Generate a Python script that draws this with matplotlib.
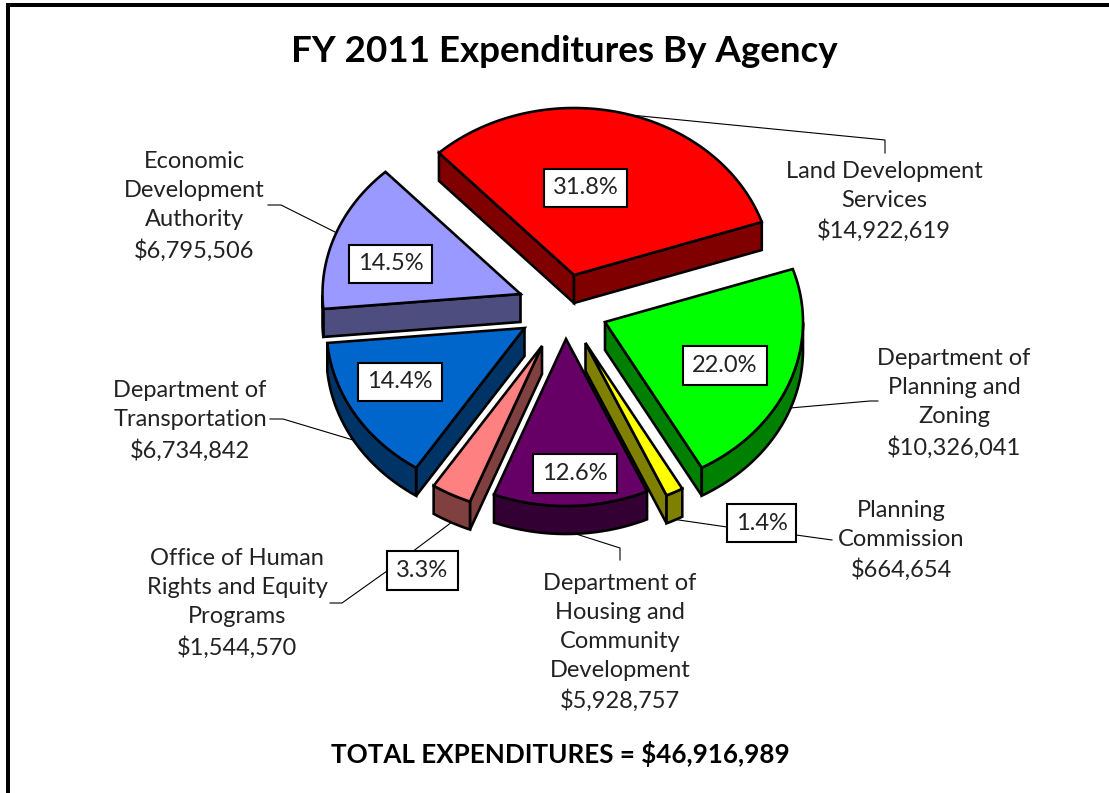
import matplotlib
matplotlib.use('Agg')
import matplotlib.pyplot as plt
import numpy as np

agencies = ['Land Development\nServices', 'Department of\nPlanning and\nZoning', 'Planning\nCommission',
            'Department of\nHousing and\nCommunity\nDevelopment', 'Office of Human\nRights and Equity\nPrograms',
            'Department of\nTransportation', 'Economic\nDevelopment\nAuthority']
amounts = [14922619, 10326041, 664654, 5928757, 1544570, 6734842, 6795506]
total = 46916989

top_colors = ['#FF0000', '#00FF00', '#FFFF00', '#660066', '#FF8080', '#0066CC', '#9999FF']
side_colors = ['#800000', '#008000', '#808000', '#330033', '#804040', '#003366', '#4D4D80']

# layout, everything below is in image pixels
apex = [(574, 275), (605, 322), (585.5, 343), (566, 339), (542, 346), (524.5, 328), (520.5, 294)]
name_pos = [(884, 201.5), (954, 403.5), (901, 540.5), (620, 642.5), (237, 603.5), (190, 421), (194, 206.5)]
pct_pos = [(585.5, 188), (725, 365.5), (761.5, 523), (575, 473.5), (422.5, 570.5), (400, 382), (390.5, 264)]
leaders = [[(600, 112), (885, 140), (885, 153)],
           [(790, 408), (870, 401), (878, 401)],
           [(665, 518), (727, 527)],
           [(576, 534), (620, 548), (620, 560)],
           [(452, 522), (412, 552)],
           [(353, 440), (283, 419), (270, 419)],
           [(335, 232), (281, 205), (268, 205)]]
leaders2 = [[(796, 535), (832, 540)], [(387, 571), (342, 603), (330, 603)]]
rx, ry, depth = 198, 167, 28
start = 133
edge = 2.6 * 72 / 100

plt.rcParams['font.family'] = ['Lato', 'DejaVu Sans']

fig = plt.figure(figsize=(11.09, 7.93), dpi=100)
ax = fig.add_axes([0, 0, 1, 1])
ax.set_xlim(0, 1109)
ax.set_ylim(793, 0)
ax.axis('off')

# frame runs off the right and bottom of the image
ax.plot([8, 8, 1120], [800, 5, 5], color='black', lw=4 * 72 / 100, solid_joinstyle='miter')


def wall(x, y, color):
    ax.fill(np.r_[x, x[::-1]], np.r_[y, y[::-1] + depth], facecolor=color, edgecolor='black',
            lw=edge, joinstyle='miter', zorder=2)


a0 = start
for i, amount in enumerate(amounts):
    a1 = a0 - amount / total * 360
    th = np.radians(np.linspace(a0, a1, 120))
    x0, y0 = apex[i]
    xs = x0 + rx * np.cos(th)
    ys = y0 - ry * np.sin(th)
    # only the faces turned toward the viewer get a side wall
    if xs[0] < x0:
        wall(np.array([x0, xs[0]]), np.array([y0, ys[0]]), side_colors[i])
    if xs[-1] > x0:
        wall(np.array([x0, xs[-1]]), np.array([y0, ys[-1]]), side_colors[i])
    front = np.sin(th) < 0
    if front.sum() > 1:
        wall(xs[front], ys[front], side_colors[i])
    ax.fill(np.r_[x0, xs], np.r_[y0, ys], facecolor=top_colors[i], edgecolor='black',
            lw=edge, joinstyle='miter', zorder=3)
    a0 = a1

for pts in leaders + leaders2:
    ax.plot(*zip(*pts), color='black', lw=0.8, zorder=1)

for i, amount in enumerate(amounts):
    ax.text(*name_pos[i], '%s\n$%s' % (agencies[i], format(amount, ',')), ha='center', va='center',
            fontsize=17, linespacing=1.47, color='#222222')
    ax.text(*pct_pos[i], '%.1f%%' % (amount / total * 100), ha='center', va='center', fontsize=17,
            color='#222222', zorder=5,
            bbox=dict(boxstyle='square,pad=0.38', facecolor='white', edgecolor='black', lw=1.5))

ax.text(564.5, 51, 'FY 2011 Expenditures By Agency', ha='center', va='center', fontsize=26.5, fontweight='bold')
ax.text(560, 754, 'TOTAL EXPENDITURES = $%s' % format(total, ','), ha='center', va='center',
        fontsize=18.7, fontweight='bold')

fig.savefig('out.png', dpi=100)
